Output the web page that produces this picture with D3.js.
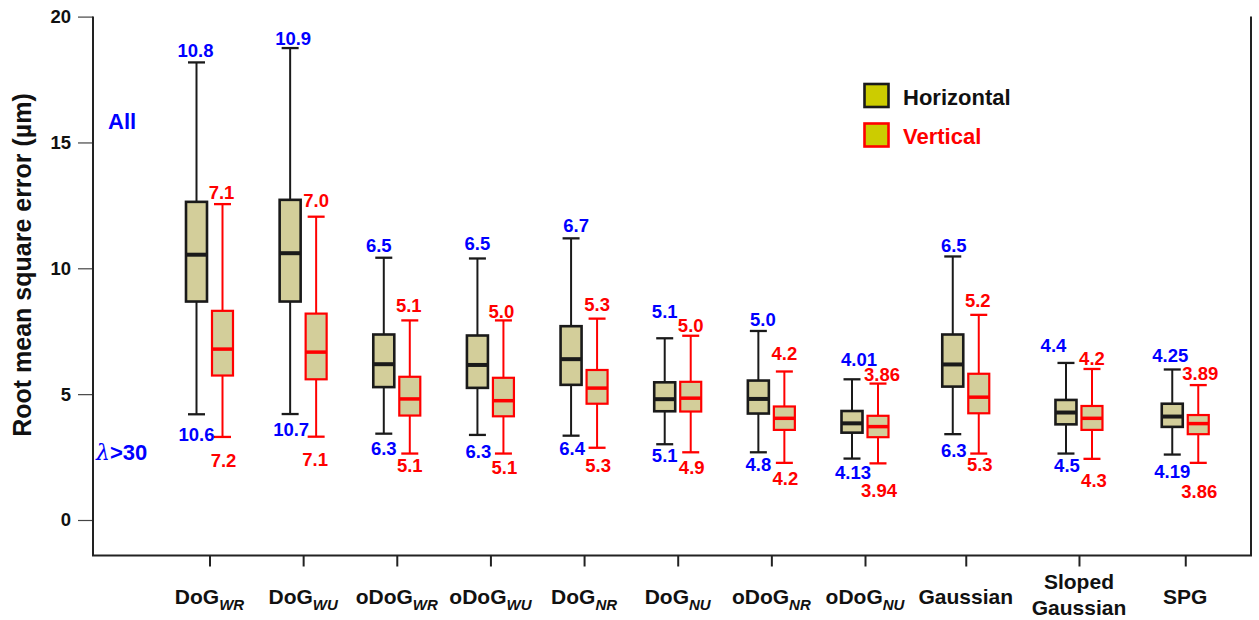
<!DOCTYPE html>
<html><head><meta charset="utf-8">
<script src="https://cdn.jsdelivr.net/npm/d3@7"></script>
<style>
body{margin:0;background:#fff}
text{font-family:"Liberation Sans",Arial,Helvetica,sans-serif;font-weight:bold}
</style>
</head><body>
<svg id="chart" width="1259" height="620"></svg>
<script>
// ---------- data ----------
const catMain = ["DoG","DoG","oDoG","oDoG","DoG","DoG","oDoG","oDoG","Gaussian","Sloped Gaussian","SPG"];
const catSub  = ["WR","WU","WR","WU","NR","NU","NR","NU","","",""];
const catSlot = [0,1,2,3,4,5,6,7,8.076,9.285,10.42];

// Horizontal series (min, q1, median, q3, max)
const hMin = [4.20,4.21,3.43,3.38,3.35,3.01,2.69,2.44,3.41,2.64,2.60];
const hQ1  = [8.68,8.68,5.28,5.25,5.37,4.32,4.23,3.47,5.30,3.80,3.70];
const hMed = [10.54,10.60,6.19,6.16,6.39,4.80,4.81,3.84,6.18,4.27,4.11];
const hQ3  = [12.64,12.72,7.37,7.33,7.70,5.47,5.54,4.33,7.37,4.77,4.62];
const hMax = [18.18,18.75,10.42,10.39,11.19,7.22,7.51,5.59,10.47,6.24,5.98];
// Vertical series
const vMin = [3.30,3.31,2.64,2.64,2.87,2.69,2.27,2.25,2.64,2.43,2.27];
const vQ1  = [5.74,5.59,4.15,4.12,4.62,4.31,3.58,3.29,4.24,3.58,3.41];
const vMed = [6.79,6.67,4.81,4.74,5.24,4.84,4.04,3.71,4.88,4.04,3.83];
const vQ3  = [8.31,8.20,5.69,5.65,5.96,5.49,4.51,4.14,5.81,4.53,4.17];
const vMax = [12.55,12.05,7.93,7.93,8.00,7.32,5.90,5.42,8.15,6.00,5.36];

// annotation texts
const hTopLabel = ["10.8","10.9","6.5","6.5","6.7","5.1","5.0","4.01","6.5","4.4","4.25"];
const hBotLabel = ["10.6","10.7","6.3","6.3","6.4","5.1","4.8","4.13","6.3","4.5","4.19"];
const vTopLabel = ["7.1","7.0","5.1","5.0","5.3","5.0","4.2","3.86","5.2","4.2","3.89"];
const vBotLabel = ["7.2","7.1","5.1","5.1","5.3","4.9","4.2","3.94","5.3","4.3","3.86"];

const yTicks = [0,5,10,15,20];
const seriesNames = ["Horizontal","Vertical"];

// ---------- layout (label nudges in px) ----------
const hTopGap = [5,3.3,6,8.7,6.4,20.6,5,13.6,4.4,11,7.4];
const vTopGap = [5,10,8.7,2.4,8,3.7,11,2.7,8.3,4,5];
const hBotGap = [27,22,21.3,23.3,19.3,17.4,18.7,20.6,22.4,18,23.6];
const vBotGap = [29.7,29,18.6,20,24,21.7,22,33.4,17,27.7,34.7];
const hTopDx = [-1,3,-5,0,5,0,4.5,7,1,-12.5,-2];
const vTopDx = [-1,0,-1,-2,0,0,0,4,-1,0,2];
const hBotDx = [0,1,0,1,1,0,0,1,1,1,0];
const vBotDx = [1,-1,0,1,1,1,1,1,1,2,1];

// ---------- drawing ----------
const svg = d3.select("#chart");
const L = 93, R = 1251, T = 16.6, B = 555.5;
const y = d3.scaleLinear().domain([0,20]).range([520,16.6]);
const x = d3.scaleLinear().domain([0,7]).range([209.5,865]);

const BLUE = "#0000ff", RED = "#ff0000", FILL = "#d3ce9a", DARK = "#1a1a1a";

// y axis
const gy = svg.append("g").attr("transform",`translate(${L},0)`)
  .call(d3.axisLeft(y).tickValues(yTicks).tickSize(15).tickPadding(7));
gy.select(".domain").remove();
gy.selectAll(".tick line").attr("stroke","#444").attr("stroke-width",1.2);
gy.selectAll(".tick text").attr("font-size",18.5).attr("fill","#111")
  .style("font-family","'Liberation Sans',Arial,sans-serif").style("font-weight","bold");

// x axis ticks
const gx = svg.append("g").attr("transform",`translate(0,${B})`)
  .call(d3.axisBottom(x).tickValues(catSlot).tickSize(11).tickFormat(""));
gx.select(".domain").remove();
gx.selectAll(".tick line").attr("stroke","#222").attr("stroke-width",2);

// frame
svg.append("path").attr("d",`M${L},${T}V${B}H${R}V${T}`)
  .attr("fill","none").attr("stroke","#222").attr("stroke-width",2);

// category labels
catMain.forEach((m,i)=>{
  const cx = x(catSlot[i]);
  if (m.indexOf(" ")>0) {
    const parts = m.split(" ");
    svg.append("text").attr("x",cx).attr("y",589).attr("text-anchor","middle")
      .attr("font-size",21).attr("fill","#111").text(parts[0]);
    svg.append("text").attr("x",cx).attr("y",615).attr("text-anchor","middle")
      .attr("font-size",21).attr("fill","#111").text(parts[1]);
  } else {
    const t = svg.append("text").attr("x",cx).attr("y",604).attr("text-anchor","middle")
      .attr("font-size",21).attr("fill","#111");
    t.append("tspan").text(m);
    if (catSub[i]) t.append("tspan").attr("font-size",15).attr("font-style","italic")
      .attr("dy",6).text(catSub[i]);
  }
});

// boxes
const BW = 21, CAP = 17, OFF = 13;
function drawSeries(mins,q1s,meds,q3s,maxs,off,stroke,medW,boxW,whW){
  const g = svg.append("g");
  mins.forEach((mn,i)=>{
    const cx = x(catSlot[i]) + off;
    g.append("line").attr("x1",cx).attr("x2",cx).attr("y1",y(maxs[i])).attr("y2",y(q3s[i]))
      .attr("stroke",stroke).attr("stroke-width",whW);
    g.append("line").attr("x1",cx).attr("x2",cx).attr("y1",y(q1s[i])).attr("y2",y(mn))
      .attr("stroke",stroke).attr("stroke-width",whW);
    [maxs[i],mn].forEach(v=>{
      g.append("line").attr("x1",cx-CAP/2).attr("x2",cx+CAP/2).attr("y1",y(v)).attr("y2",y(v))
        .attr("stroke",stroke).attr("stroke-width",whW+0.3);
    });
    g.append("rect").attr("x",cx-BW/2).attr("width",BW)
      .attr("y",y(q3s[i])).attr("height",y(q1s[i])-y(q3s[i]))
      .attr("fill",FILL).attr("stroke",stroke).attr("stroke-width",boxW);
    g.append("line").attr("x1",cx-BW/2).attr("x2",cx+BW/2).attr("y1",y(meds[i])).attr("y2",y(meds[i]))
      .attr("stroke",stroke).attr("stroke-width",medW);
  });
}
drawSeries(hMin,hQ1,hMed,hQ3,hMax,-OFF,DARK,4,2.6,2);
drawSeries(vMin,vQ1,vMed,vQ3,vMax,OFF,RED,3.5,2.2,2);

// value labels
function labels(texts,vals,off,gaps,dxs,color,sign){
  texts.forEach((t,i)=>{
    svg.append("text").attr("x",x(catSlot[i])+off+dxs[i])
      .attr("y",y(vals[i]) + sign*gaps[i])
      .attr("text-anchor","middle").attr("font-size",18.5).attr("fill",color).text(t);
  });
}
labels(hTopLabel,hMax,-OFF,hTopGap,hTopDx,BLUE,-1);
labels(hBotLabel,hMin,-OFF,hBotGap,hBotDx,BLUE,1);
labels(vTopLabel,vMax,OFF,vTopGap,vTopDx,RED,-1);
labels(vBotLabel,vMin,OFF,vBotGap,vBotDx,RED,1);

// y label
svg.append("text").attr("transform","translate(31,265) rotate(-90)")
  .attr("text-anchor","middle").attr("font-size",25).attr("fill","#111")
  .text("Root mean square error (µm)");

// annotations
svg.append("text").attr("x",108).attr("y",129).attr("font-size",22).attr("fill",BLUE).text("All");
const lam = svg.append("text").attr("x",96).attr("y",460).attr("font-size",22).attr("fill",BLUE);
lam.append("tspan").attr("font-style","italic").style("font-family","'DejaVu Serif',serif").style("font-weight","normal").text("λ");
lam.append("tspan").text(">30");

// legend
const legY = [84,123.5];
const legStroke = [DARK, RED];
const legText = ["#111", RED];
seriesNames.forEach((s,i)=>{
  svg.append("rect").attr("x",864.5).attr("y",legY[i]).attr("width",24).attr("height",23)
    .attr("fill","#cccc00").attr("stroke",legStroke[i]).attr("stroke-width",2.6);
  svg.append("text").attr("x",903).attr("y",legY[i]+20.5).attr("font-size",22)
    .attr("fill",legText[i]).text(s);
});
</script>
</body></html>
